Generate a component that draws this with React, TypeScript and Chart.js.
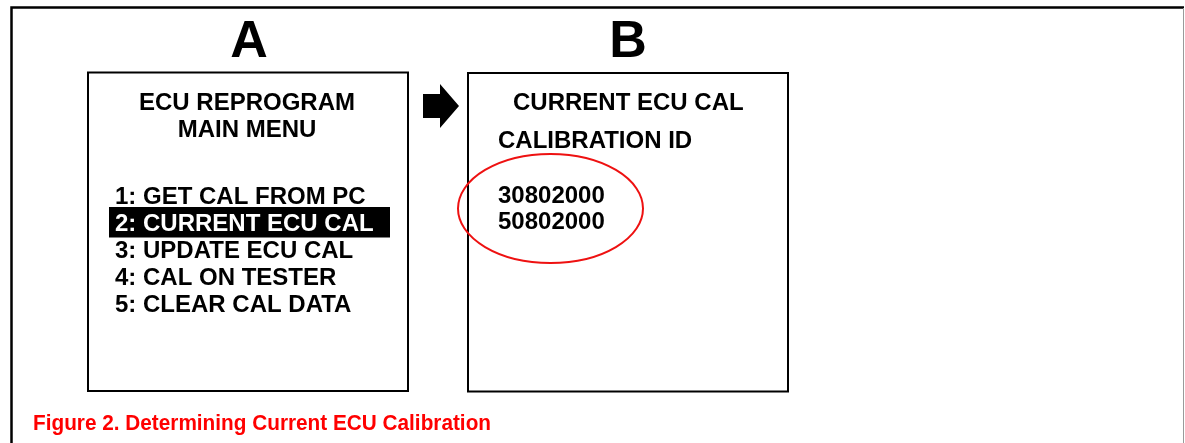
import React, { useEffect, useRef } from "react";
import { Chart, registerables } from "chart.js";

Chart.register(...registerables);

// ---- Content (text data) ----
const panelLabels: string[] = ["A", "B"];
const menuTitle: string[] = ["ECU REPROGRAM", "MAIN MENU"];
const menuItems: string[] = [
  "1: GET CAL FROM PC",
  "2: CURRENT ECU CAL",
  "3: UPDATE ECU CAL",
  "4: CAL ON TESTER",
  "5: CLEAR CAL DATA",
];
const highlightedItem: number = 1;
const screenBTitle: string = "CURRENT ECU CAL";
const screenBSubtitle: string = "CALIBRATION ID";
const calibrationIds: string[] = ["30802000", "50802000"];
const caption: string = "Figure 2. Determining Current ECU Calibration";

const W = 1185;
const H = 443;
const FONT = '"Liberation Sans", Arial, Helvetica, sans-serif';

const diagramPlugin = {
  id: "diagram",
  afterDraw(chart: any) {
    const ctx: CanvasRenderingContext2D = chart.ctx;
    const xs = chart.scales.x;
    const ys = chart.scales.y;
    const px = (v: number) => xs.getPixelForValue(v);
    const py = (v: number) => ys.getPixelForValue(v);

    const text = (
      s: string,
      x: number,
      y: number,
      size: number,
      color: string,
      align: CanvasTextAlign = "left",
      fitWidth?: number
    ) => {
      ctx.save();
      ctx.font = `bold ${size}px ${FONT}`;
      ctx.fillStyle = color;
      ctx.textBaseline = "alphabetic";
      const w = ctx.measureText(s).width;
      let sx = 1;
      if (fitWidth) sx = fitWidth / w;
      let left = px(x);
      if (align === "center") left -= (w * sx) / 2;
      ctx.translate(left, py(y));
      ctx.scale(sx, 1);
      ctx.textAlign = "left";
      ctx.fillText(s, 0, 0);
      ctx.restore();
    };

    ctx.save();
    // white background
    ctx.fillStyle = "#ffffff";
    ctx.fillRect(0, 0, chart.width, chart.height);

    // outer frame
    ctx.strokeStyle = "#000";
    ctx.lineWidth = 2.5;
    ctx.beginPath();
    ctx.moveTo(px(11.5), py(H));
    ctx.lineTo(px(11.5), py(7.5));
    ctx.lineTo(px(1184), py(7.5));
    ctx.stroke();
    ctx.strokeStyle = "#9a9a9a";
    ctx.lineWidth = 1;
    ctx.beginPath();
    ctx.moveTo(px(1183.5), py(8));
    ctx.lineTo(px(1183.5), py(H));
    ctx.stroke();

    // screen boxes
    ctx.strokeStyle = "#000";
    ctx.lineWidth = 2;
    ctx.strokeRect(px(88), py(72.5), px(408) - px(88), py(391) - py(72.5));
    ctx.strokeRect(px(468), py(73), px(788) - px(468), py(391.5) - py(73));

    // panel labels
    text(panelLabels[0], 249, 57, 52, "#000", "center");
    text(panelLabels[1], 628, 57, 52, "#000", "center");

    // arrow
    ctx.fillStyle = "#000";
    ctx.beginPath();
    ctx.moveTo(px(423), py(94));
    ctx.lineTo(px(440), py(94));
    ctx.lineTo(px(440), py(84));
    ctx.lineTo(px(459), py(106));
    ctx.lineTo(px(440), py(128));
    ctx.lineTo(px(440), py(118));
    ctx.lineTo(px(423), py(118));
    ctx.closePath();
    ctx.fill();
    ctx.restore();

    // screen A
    text(menuTitle[0], 247, 110, 24, "#000", "center");
    text(menuTitle[1], 247, 137, 24, "#000", "center");
    const itemBase = [204, 231, 258, 285, 312];
    menuItems.forEach((s, i) => {
      if (i === highlightedItem) {
        ctx.save();
        ctx.fillStyle = "#000";
        ctx.fillRect(px(109), py(207), px(390) - px(109), py(237.5) - py(207));
        ctx.restore();
        text(s, 115, itemBase[i], 24, "#fff");
      } else {
        text(s, 115, itemBase[i], 24, "#000");
      }
    });

    // screen B
    text(screenBTitle, 513, 110, 24, "#000");
    text(screenBSubtitle, 498, 148, 24, "#000");
    calibrationIds.forEach((s, i) => text(s, 498, 203 + i * 26, 24, "#000"));

    // red ellipse
    ctx.save();
    ctx.strokeStyle = "#ee1111";
    ctx.lineWidth = 2;
    ctx.beginPath();
    ctx.ellipse(px(550.5), py(208.5), px(643) - px(550.5), py(263) - py(208.5), 0, 0, Math.PI * 2);
    ctx.stroke();
    ctx.restore();

    // caption (condensed bold)
    text(caption, 33, 430, 22, "#f00", "left", 458);
  },
};

export default function App() {
  const ref = useRef<HTMLCanvasElement | null>(null);
  useEffect(() => {
    if (!ref.current) return;
    const chart = new Chart(ref.current, {
      type: "scatter",
      data: { datasets: [{ data: [], pointRadius: 0 }] },
      options: {
        animation: false,
        responsive: true,
        maintainAspectRatio: false,
        layout: { padding: 0 },
        plugins: { legend: { display: false }, tooltip: { enabled: false } },
        scales: {
          x: { type: "linear", min: 0, max: W, display: false },
          y: { type: "linear", min: 0, max: H, reverse: true, display: false },
        },
      },
      plugins: [diagramPlugin],
    });
    return () => chart.destroy();
  }, []);
  return (
    <div style={{ position: "fixed", left: 0, top: 0, width: W, height: H, background: "#fff" }}>
      <canvas ref={ref} />
    </div>
  );
}
